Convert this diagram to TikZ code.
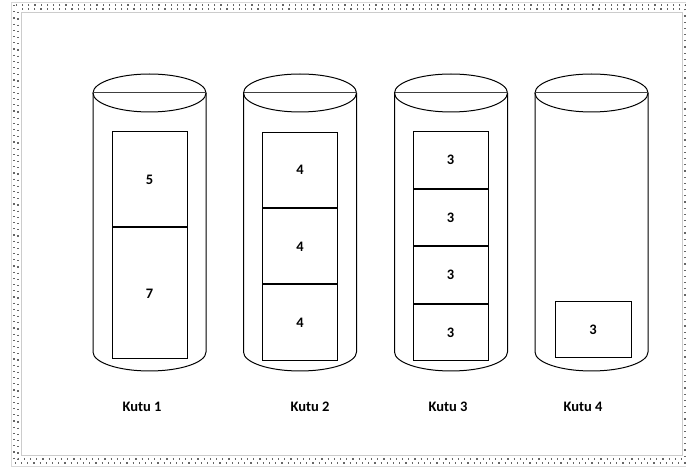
\documentclass[tikz,border=0pt]{standalone}
\usepackage{fontspec}
\setmainfont{Carlito}
\usetikzlibrary{positioning}

\begin{document}
\begin{tikzpicture}[x=1pt, y=-1pt, line width=1pt,
    item/.style={draw, fill=white, minimum width=75pt, inner sep=0pt, font=\fontsize{14.5}{16}\selectfont\bfseries},
    caption/.style={font=\fontsize{14.5}{16}\selectfont\bfseries},
    band/.style={draw=black!60, line width=1.2pt, dash pattern=on 1.2pt off 5pt}]
  \useasboundingbox (0,0) rectangle (686,470);
  % dotted frame
  \draw[black!15, line width=0.4pt] (11,2) rectangle (692,466);
  \draw[black!20, line width=0.4pt] (21,12) rectangle (682,455);
  \draw[band] (14,5) rectangle (689,463);
  \draw[band, dash phase=3pt] (18,9) rectangle (685,459);
  % cylinders: centre x, top rim y = 93, bottom rim y = 352
  \newcommand{\kutu}[1]{%
    \draw (#1,93) ellipse [x radius=56.5pt, y radius=19pt];
    \draw[black!75] (#1-56.5,93) -- (#1+56.5,93);
    \draw (#1-56.5,93) -- (#1-56.5,352)
          arc [start angle=180, end angle=360, x radius=56.5pt, y radius=19pt]
          -- (#1+56.5,93);}
  \kutu{149.5}
  \kutu{300}
  \kutu{451}
  \kutu{591.5}
  % Kutu 1
  \node[item, minimum height=95pt] (a1) at (149.5,179.5) {5};
  \node[item, minimum height=131pt, below=0pt of a1] (a2) {7};
  % Kutu 2
  \node[item, minimum height=75.3pt] (b1) at (300,170) {4};
  \node[item, minimum height=75.3pt, below=0pt of b1] (b2) {4};
  \node[item, minimum height=75.3pt, below=0pt of b2] (b3) {4};
  % Kutu 3
  \node[item, minimum height=56.5pt] (c1) at (450.5,160.25) {3};
  \node[item, minimum height=56.5pt, below=0pt of c1] (c2) {3};
  \node[item, minimum height=56.5pt, below=0pt of c2] (c3) {3};
  \node[item, minimum height=56.5pt, below=0pt of c3] (c4) {3};
  % Kutu 4
  \node[item, minimum height=56pt, minimum width=76pt] (d1) at (593,330) {3};
  % captions
  \node[caption] (l1) at (142,407) {Kutu 1};
  \node[caption] (l2) at (310,407) {Kutu 2};
  \node[caption] (l3) at (448,407) {Kutu 3};
  \node[caption] (l4) at (583,407) {Kutu 4};
\end{tikzpicture}
\end{document}
